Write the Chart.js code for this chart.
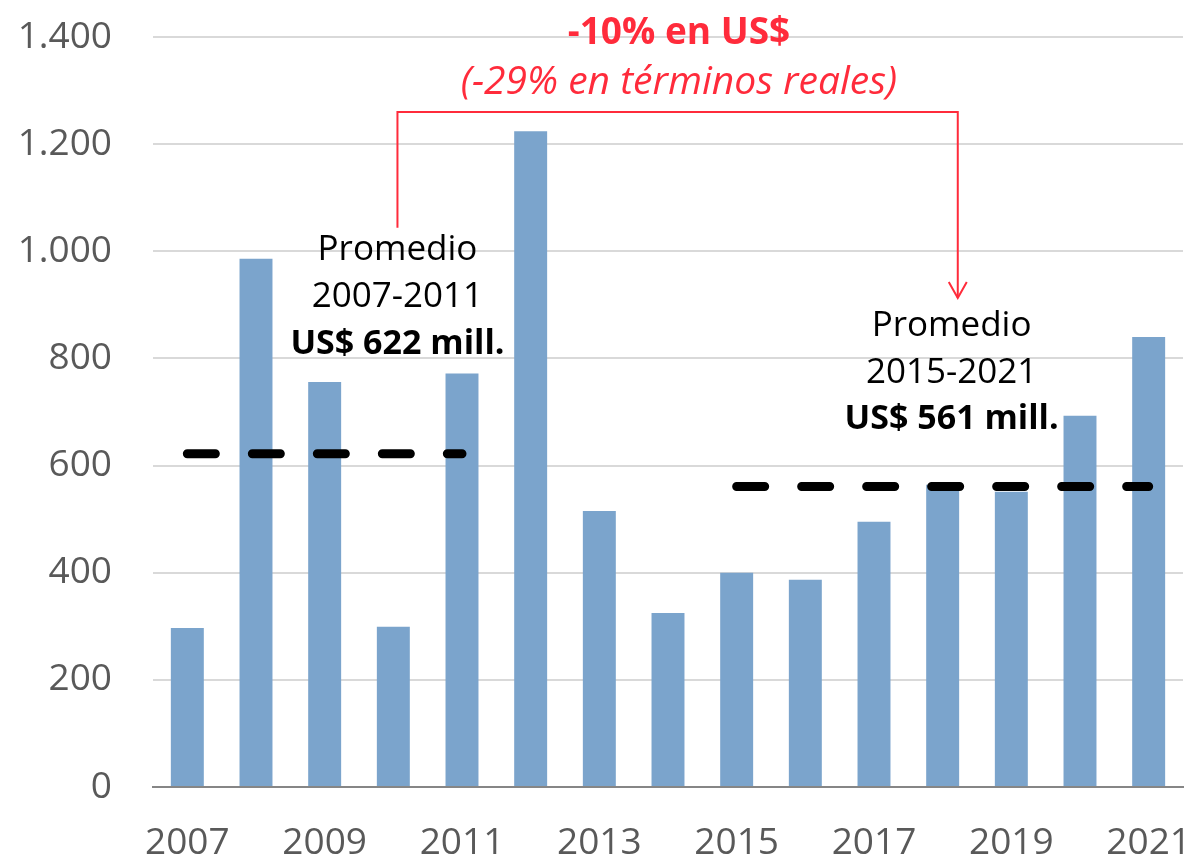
<!DOCTYPE html>
<html>
<head>
<meta charset="utf-8">
<script src="https://cdn.jsdelivr.net/npm/chart.js@4/dist/chart.umd.min.js"></script>
<style>
  body { margin: 0; background: #fff; }
  #wrap { width: 1194px; height: 859px; position: relative; }
</style>
</head>
<body>
<div id="wrap"><canvas id="grafico"></canvas></div>
<script>
// Datos (millones de US$)
var anios = ['2007','2008','2009','2010','2011','2012','2013','2014','2015','2016','2017','2018','2019','2020','2021'];
var montos = [297, 986, 756, 299, 772, 1224, 515, 325, 400, 387, 495, 564, 551, 693, 840];
var promedio1 = [622, 622, 622, 622, 622, null, null, null, null, null, null, null, null, null, null];
var promedio2 = [null, null, null, null, null, null, null, null, 561, 561, 561, 561, 561, 561, 561];
var ticksY = [0, 200, 400, 600, 800, 1000, 1200, 1400];

var textoIzq = ['Promedio', '2007-2011', 'US$ 622 mill.'];
var textoDer = ['Promedio', '2015-2021', 'US$ 561 mill.'];
var textoRojo = ['-10% en US$', '(-29% en términos reales)'];

var fuente = '"Open Sans", sans-serif';
var rojo = '#ff2b3b';

// Anotaciones: textos y flecha roja, posicionados con las escalas
var anotaciones = {
  id: 'anotaciones',
  afterDatasetsDraw: function(chart) {
    var ctx = chart.ctx;
    var x = chart.scales.x, y = chart.scales.y;
    var x0 = x.getPixelForValue(0);
    var paso = x.getPixelForValue(1) - x0;
    function px(i) { return x0 + i * paso; }

    ctx.save();
    ctx.textAlign = 'center';
    ctx.textBaseline = 'middle';

    // bloque izquierdo
    var yIzq = [1002, 914, 826];
    textoIzq.forEach(function(t, k) {
      ctx.font = (k == 2 ? 'bold 34px ' : '35px ') + fuente;
      ctx.fillStyle = '#000';
      ctx.fillText(t, px(3.06), y.getPixelForValue(yIzq[k]));
    });
    // bloque derecho
    var yDer = [860, 773, 687];
    textoDer.forEach(function(t, k) {
      ctx.font = (k == 2 ? 'bold 34px ' : '35px ') + fuente;
      ctx.fillStyle = '#000';
      ctx.fillText(t, px(11.13), y.getPixelForValue(yDer[k]));
    });

    // textos rojos
    ctx.fillStyle = rojo;
    ctx.font = 'bold 37px ' + fuente;
    ctx.fillText(textoRojo[0], px(7.16), y.getPixelForValue(1406));
    ctx.font = 'italic 39px ' + fuente;
    ctx.fillText(textoRojo[1], px(7.16), y.getPixelForValue(1315));

    // flecha
    var xa = px(3.06), xb = px(11.22);
    var yTop = y.getPixelForValue(1260);
    var yIni = y.getPixelForValue(1044);
    var yFin = y.getPixelForValue(913);
    ctx.strokeStyle = rojo;
    ctx.lineWidth = 2;
    ctx.beginPath();
    ctx.moveTo(xa, yIni);
    ctx.lineTo(xa, yTop);
    ctx.lineTo(xb, yTop);
    ctx.lineTo(xb, yFin);
    ctx.stroke();
    ctx.beginPath();
    ctx.moveTo(xb - 9, yFin - 16);
    ctx.lineTo(xb, yFin);
    ctx.lineTo(xb + 9, yFin - 16);
    ctx.stroke();
    ctx.restore();
  }
};

var ctx = document.getElementById('grafico').getContext('2d');
var grafico = new Chart(ctx, {
  type: 'bar',
  data: {
    labels: anios,
    datasets: [{
      type: 'line',
      data: promedio1,
      borderColor: '#000',
      borderWidth: 9,
      borderDash: [28, 37],
      borderCapStyle: 'round',
      pointRadius: 0,
      fill: false,
      order: 0
    }, {
      type: 'line',
      data: promedio2,
      borderColor: '#000',
      borderWidth: 9,
      borderDash: [28, 37],
      borderCapStyle: 'round',
      pointRadius: 0,
      fill: false,
      order: 0
    }, {
      data: montos,
      backgroundColor: '#7ba4cc',
      barPercentage: 0.48,
      categoryPercentage: 1,
      order: 1
    }]
  },
  options: {
    responsive: true,
    maintainAspectRatio: false,
    animation: false,
    layout: { padding: { top: 37, right: 11, left: 12, bottom: 0 } },
    plugins: { legend: { display: false }, tooltip: { enabled: false } },
    scales: {
      x: {
        grid: { display: false, drawTicks: false },
        border: { color: '#868686', width: 2 },
        afterFit: function(axis) {
          axis.height = 72;
          axis.paddingLeft = 0;
          axis.paddingRight = 0;
        },
        ticks: {
          autoSkip: false,
          maxRotation: 0,
          padding: 34,
          color: '#595959',
          font: { family: fuente, size: 37 },
          callback: function(v, i) { return i % 2 == 0 ? anios[i] : ''; }
        }
      },
      y: {
        min: 0,
        max: 1400,
        afterBuildTicks: function(axis) {
          axis.ticks = ticksY.map(function(v) { return { value: v }; });
        },
        afterFit: function(axis) {
          axis.width = 141;
          axis.paddingTop = 0;
          axis.paddingBottom = 0;
        },
        grid: { color: '#d9d9d9', lineWidth: 2, drawTicks: false },
        border: { display: false },
        ticks: {
          padding: 41,
          color: '#595959',
          font: { family: fuente, size: 37 },
          callback: function(v) { return v.toLocaleString('de-DE'); }
        }
      }
    }
  },
  plugins: [anotaciones]
});
</script>
</body>
</html>
